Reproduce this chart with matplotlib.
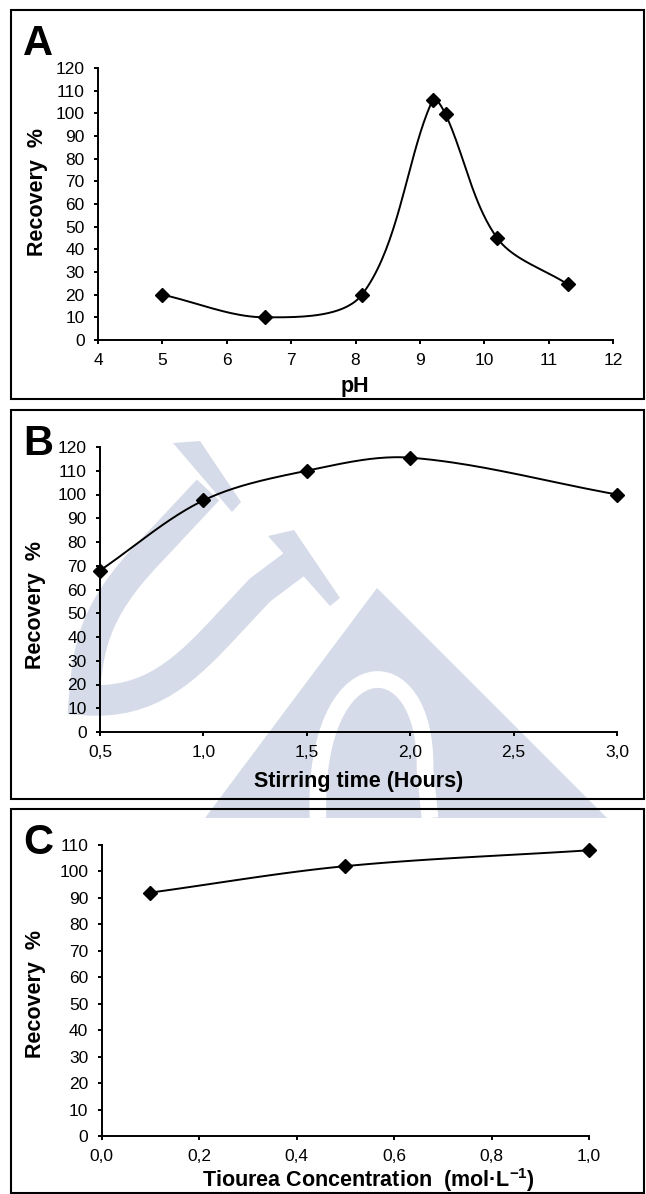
import matplotlib.pyplot as plt
import numpy as np
from matplotlib.patches import Rectangle, Polygon, PathPatch
from matplotlib.path import Path

plt.rcParams["font.family"] = ["Liberation Sans", "DejaVu Sans"]
plt.rcParams["mathtext.fontset"] = "custom"
plt.rcParams["mathtext.rm"] = "Liberation Sans"
plt.rcParams["mathtext.bf"] = "Liberation Sans:bold"

W, H = 646, 1194

# panel A: pH
PH = [5.0, 6.6, 8.1, 9.2, 9.4, 10.2, 11.3]
REC_PH = [20.0, 10.0, 20.0, 106.0, 99.5, 45.0, 24.5]
PH_TICKS = [4, 5, 6, 7, 8, 9, 10, 11, 12]

# panel B: stirring time
TIME = [0.5, 1.0, 1.5, 2.0, 3.0]
REC_TIME = [68.0, 97.5, 110.0, 115.5, 100.0]
TIME_TICKS = [0.5, 1.0, 1.5, 2.0, 2.5, 3.0]

# panel C: thiourea concentration
CONC = [0.1, 0.5, 1.0]
REC_CONC = [92.0, 102.0, 108.0]
CONC_TICKS = [0.0, 0.2, 0.4, 0.6, 0.8, 1.0]

INK = "#000000"
MARK = "#d6dbe9"   # watermark tint


def smooth(ax, xs, ys, n=40):
    """Excel-like smoothed line, Bezier built in display space."""
    p = ax.transData.transform(np.column_stack([xs, ys]))
    out = [p[0]]
    for i in range(len(p) - 1):
        p0 = p[i - 1] if i > 0 else p[i]
        p3 = p[i + 2] if i + 2 < len(p) else p[i + 1]
        d12 = np.hypot(*(p[i + 1] - p[i]))
        d01 = np.hypot(*(p[i] - p0))
        d23 = np.hypot(*(p3 - p[i + 1]))
        f1 = d12 / (d01 + d12) / 3 if d01 + d12 > 0 else 0
        f2 = d12 / (d12 + d23) / 3 if d12 + d23 > 0 else 0
        c1 = p[i] + (p[i + 1] - p0) * f1
        c2 = p[i + 1] - (p3 - p[i]) * f2
        t = np.linspace(0, 1, n)[1:, None]
        seg = ((1 - t) ** 3 * p[i] + 3 * (1 - t) ** 2 * t * c1
               + 3 * (1 - t) * t ** 2 * c2 + t ** 3 * p[i + 1])
        out.extend(seg)
    out = ax.transData.inverted().transform(np.array(out))
    return out[:, 0], out[:, 1]


def fx(x):
    return x / W


def fy(y):
    return 1 - y / H


def watermark(fig):
    # faint university logo behind panels B and C (rough shapes, pixels)
    kw = dict(transform=fig.transFigure, facecolor=MARK, edgecolor="none",
              zorder=0)
    serif1 = [(173, 443), (200, 441), (241, 502), (232, 512)]
    serif2 = [(268, 536), (294, 530), (340, 598), (330, 606)]
    for poly in (serif1, serif2):
        fig.add_artist(Polygon([(fx(x), fy(y)) for x, y in poly], **kw))
    u = Path([(fx(x), fy(y)) for x, y in
              [(208, 490), (150, 552), (92, 612), (88, 650), (84, 700),
               (150, 705), (186, 670), (230, 622), (260, 590), (300, 560)]],
             [Path.MOVETO, Path.LINETO, Path.CURVE4, Path.CURVE4,
              Path.CURVE4, Path.CURVE4, Path.CURVE4, Path.LINETO,
              Path.LINETO, Path.LINETO])
    fig.add_artist(PathPatch(u, transform=fig.transFigure, fill=False,
                             edgecolor=MARK, linewidth=22, zorder=0,
                             capstyle="butt"))
    tri = [(377, 588), (607, 818), (205, 818)]
    fig.add_artist(Polygon([(fx(x), fy(y)) for x, y in tri], **kw))
    s = Path([(fx(x), fy(y)) for x, y in
              [(318, 818), (312, 645), (428, 640), (425, 770), (430, 818)]],
             [Path.MOVETO, Path.CURVE4, Path.CURVE4, Path.CURVE4,
              Path.LINETO])
    fig.add_artist(PathPatch(s, transform=fig.transFigure, fill=False,
                             edgecolor="white", linewidth=12, zorder=0,
                             capstyle="butt"))


def style(ax):
    for side in ("top", "right"):
        ax.spines[side].set_visible(False)
    for side in ("left", "bottom"):
        ax.spines[side].set_linewidth(1.4)
        ax.spines[side].set_color(INK)
    ax.tick_params(direction="out", length=3, width=1.4, colors=INK,
                   labelsize=12.5, pad=6.5)
    ax.set_facecolor("none")


def panel(fig, box, rect, letter, xs, ys, xlim, ylim, xticks, yticks,
          xfmt, xlabel, ylab_xy, xlab_xy):
    fig.add_artist(Rectangle((fx(box[0]), fy(box[3])),
                             (box[2] - box[0]) / W, (box[3] - box[1]) / H,
                             transform=fig.transFigure, fill=False,
                             edgecolor=INK, linewidth=1.5, zorder=1))
    left, right, top, bottom = rect
    ax = fig.add_axes([fx(left), fy(bottom), (right - left) / W,
                       (bottom - top) / H])
    ax.set_zorder(2)
    style(ax)
    ax.set_xlim(*xlim)
    ax.set_ylim(*ylim)
    ax.set_xticks(xticks)
    ax.set_xticklabels([xfmt(v) for v in xticks])
    ax.set_yticks(yticks)
    sx, sy = smooth(ax, xs, ys)
    ax.plot(sx, sy, color=INK, linewidth=1.4, zorder=2, clip_on=False)
    ax.plot(xs, ys, linestyle="none", marker="D", markersize=6.8,
            color=INK, zorder=3, clip_on=False)
    fig.text(fx(ylab_xy[0]), fy(ylab_xy[1]), "Recovery  %", rotation=90,
             fontsize=15.5, fontweight="bold", ha="center", va="center",
             zorder=3)
    fig.text(fx(xlab_xy[0]), fy(xlab_xy[1]), xlabel, fontsize=15.5,
             fontweight="bold", ha="center", va="baseline", zorder=3)
    fig.text(fx(box[0] + 12), fy(box[1] + 45), letter, fontsize=30,
             fontweight="bold", color=INK, ha="left", va="baseline",
             zorder=3)
    return ax


fig = plt.figure(figsize=(W / 100, H / 100), dpi=100)
fig.patch.set_facecolor("white")
watermark(fig)

comma = lambda v: f"{v:.1f}".replace(".", ",")

panel(fig, (11, 10, 644, 399), (98, 613, 68, 340), "A", PH, REC_PH,
      (4, 12), (0, 120), PH_TICKS, range(0, 121, 10), lambda v: f"{v}",
      "pH", (37, 192), (355, 392))
panel(fig, (11, 410, 644, 799), (100, 617, 447, 732), "B", TIME, REC_TIME,
      (0.5, 3.0), (0, 120), TIME_TICKS, range(0, 121, 10), comma,
      "Stirring time (Hours)", (36, 605), (359, 787))
panel(fig, (11, 809, 644, 1193), (101.5, 589, 845, 1136), "C", CONC,
      REC_CONC, (0.0, 1.0), (0, 110), CONC_TICKS, range(0, 111, 10), comma,
      "Tiourea Concentration  (mol·L$^{\\mathbf{-1}}$)", (35, 994),
      (368, 1187))

fig.savefig("out.png", dpi=100, facecolor="white")
